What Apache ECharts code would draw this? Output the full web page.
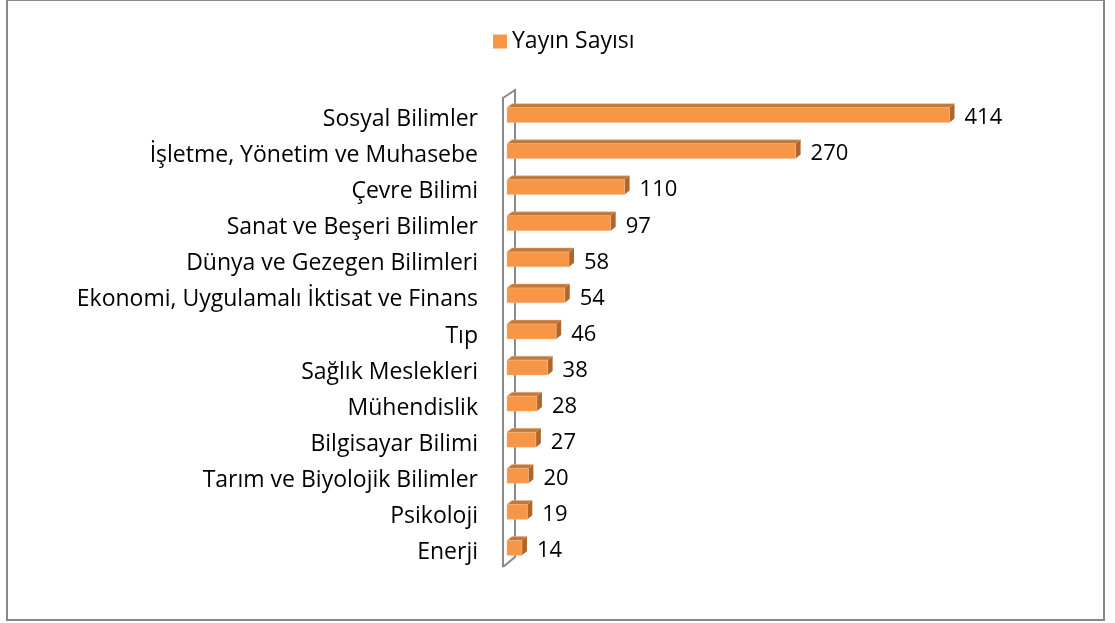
<!DOCTYPE html>
<html><head><meta charset="utf-8">
<script src="https://cdn.jsdelivr.net/npm/echarts@6/dist/echarts.min.js"></script>
<style>html,body{margin:0;padding:0;background:#fff}#c{width:1115px;height:623px}</style>
</head><body><div id="c"></div>
<script>
const categories = ["Sosyal Bilimler","İşletme, Yönetim ve Muhasebe","Çevre Bilimi","Sanat ve Beşeri Bilimler","Dünya ve Gezegen Bilimleri","Ekonomi, Uygulamalı İktisat ve Finans","Tıp","Sağlık Meslekleri","Mühendislik","Bilgisayar Bilimi","Tarım ve Biyolojik Bilimler","Psikoloji","Enerji"];
const values = [414,270,110,97,58,54,46,38,28,27,20,19,14];
const seriesName = "Yayın Sayısı";

const FONT = '"Open Sans", "Noto Sans", sans-serif';
const GRID = {left: 507, top: 96, right: 127, bottom: 58};
const chart = echarts.init(document.getElementById('c'));
const DX = 5, DY = -4;
const legendText = {fontFamily: FONT, fontSize: 23, color: '#000'};

chart.setOption({
  animation: false,
  backgroundColor: '#fff',
  legend: {
    top: 25, left: 488, itemWidth: 14, itemHeight: 14, itemGap: 8,
    icon: 'rect',
    textStyle: legendText,
    data: [{name: seriesName, itemStyle: {color: '#F79646'}, textStyle: legendText}]
  },
  grid: GRID,
  xAxis: {type: 'value', min: 0, max: 450, show: false},
  yAxis: {
    type: 'category', data: categories, inverse: true,
    axisLine: {show: false}, axisTick: {show: false}, splitLine: {show: false},
    axisLabel: {
      margin: 29,
      formatter: v => '{a|' + v + '}',
      rich: {a: {fontFamily: FONT, fontSize: 23, color: '#000', lineHeight: 23, padding: [11, 0, 0, 0]}}
    }
  },
  graphic: [
    {type: 'rect', shape: {x: 7, y: 0, width: 1097, height: 620}, style: {fill: 'none', stroke: '#888', lineWidth: 2}, z: 0, silent: true},
    {type: 'polyline', shape: {points: [[503,567],[503,98],[515,90],[515,557],[503,567]]}, style: {fill: 'none', stroke: '#8a8a8a', lineWidth: 2}, z: 1, silent: true}
  ],
  series: [{
    type: 'custom', name: seriesName, z: 5,
    itemStyle: {color: '#F79646'},
    data: values.map((v, i) => [v, i]),
    encode: {x: 0, y: 1},
    renderItem(params, api) {
      const v = api.value(0), idx = api.value(1);
      const s = api.coord([0, idx]), e = api.coord([v, idx]);
      const band = api.size([0, 1])[1];
      const h = band * 0.41;
      const x0 = s[0], x1 = e[0];
      const y0 = s[1] - h / 2 + 1, y1 = y0 + h;
      return {type: 'group', children: [
        {type: 'polygon', shape: {points: [[x0,y0],[x0+DX,y0+DY],[x1+DX,y0+DY],[x1,y0]]}, style: {fill: '#c2783a', stroke: '#f0b080', lineWidth: 0.5}},
        {type: 'polygon', shape: {points: [[x1,y0],[x1+DX,y0+DY],[x1+DX,y1+DY],[x1,y1]]}, style: {fill: '#b0652a'}},
        {type: 'rect', shape: {x: x0, y: y0, width: x1 - x0, height: h}, style: {fill: '#F79646', stroke: '#f4b98a', lineWidth: 0.5}},
        {type: 'text', style: {text: String(v), x: x1 + 15, y: (y0 + y1) / 2 + 3, verticalAlign: 'middle', align: 'left', font: '22px ' + FONT, fill: '#000'}}
      ]};
    }
  }]
});
</script></body></html>
